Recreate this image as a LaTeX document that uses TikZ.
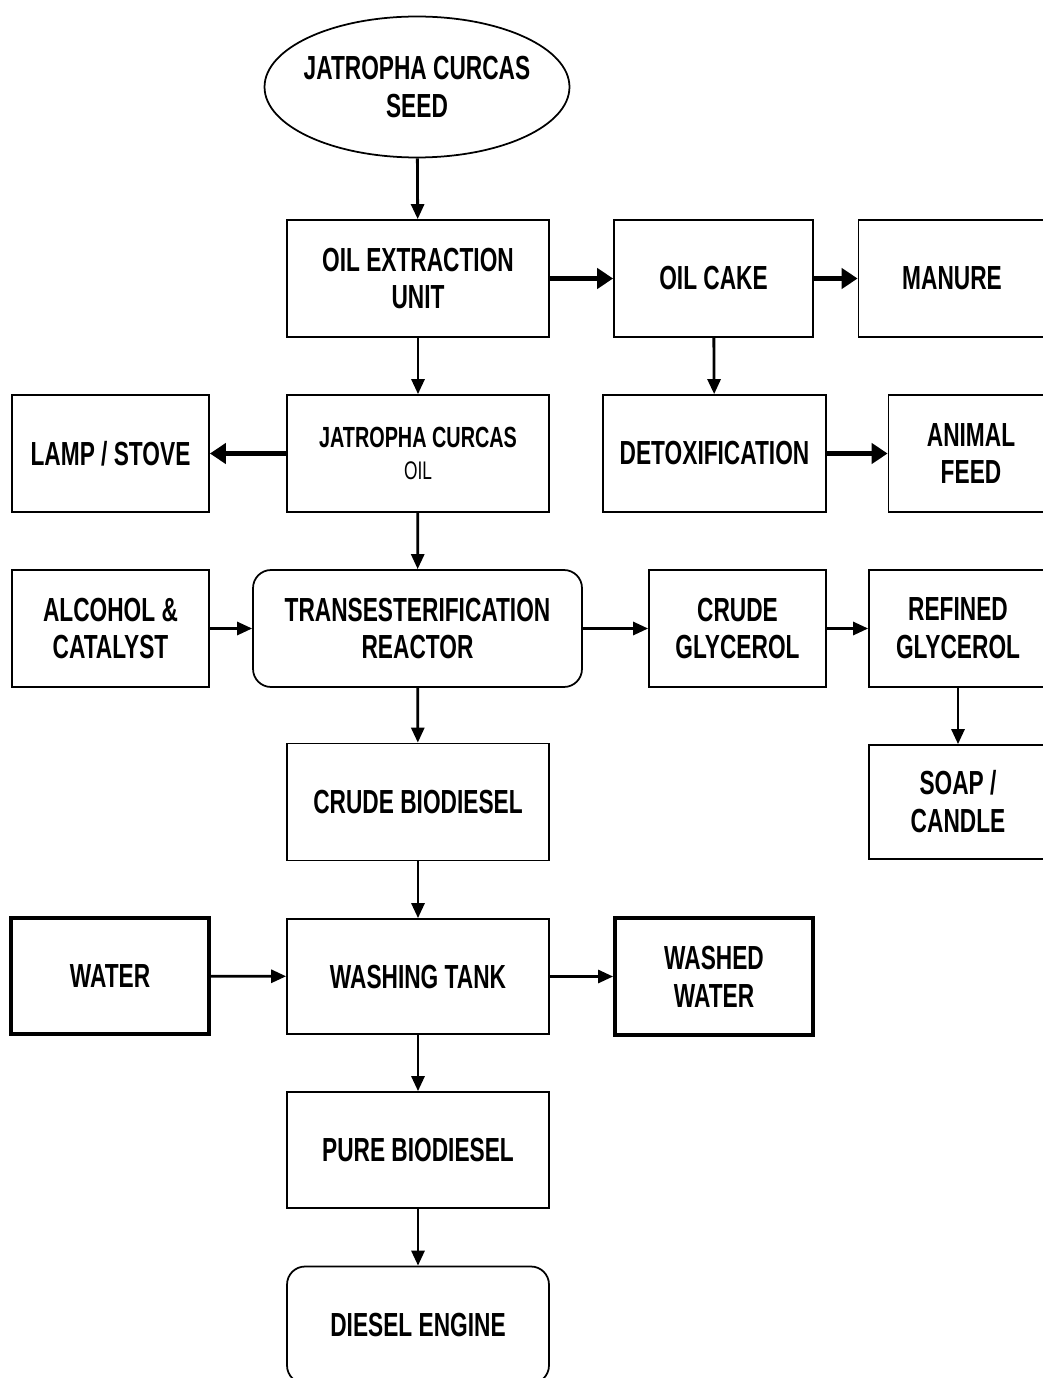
\documentclass[tikz,border=0pt]{standalone}
\usepackage{fontspec}
\newfontfamily\flowfont{Liberation Sans}[FakeStretch=0.68]
\usepackage{tikz}
\usetikzlibrary{arrows.meta, positioning, shapes.geometric}

\begin{document}
\begin{tikzpicture}[
  x=0.02cm, y=-0.02cm,
  >={Triangle[length=0.3cm, width=0.26cm]},
  box/.style={draw, line width=1pt, minimum width=5.24cm, minimum height=2.34cm,
    align=center, inner sep=2pt,
    font=\flowfont\bfseries\fontsize{19}{21.6}\selectfont},
  roundbox/.style={box, rounded corners=0.36cm},
  heavybox/.style={box, line width=2.2pt},
  link/.style={->, line width=1.6pt},
  biglink/.style={-{Triangle[length=0.32cm, width=0.4cm]}, line width=3.2pt},
]
\useasboundingbox (0,0) rectangle (1043,1378);

% --- Seed and extraction ---
\node[box, ellipse, inner xsep=-0.16cm, minimum width=6.1cm, minimum height=2.82cm] (seed) at (417, 87) {JATROPHA CURCAS\\SEED};
\node[box] (extract) at (418, 278.5) {OIL EXTRACTION\\UNIT};
\node[box, minimum width=3.98cm] (cake) at (713.5, 278.5) {OIL CAKE};
\node[box, minimum width=3.74cm] (manure) at (952, 278.5) {MANURE};

% --- Oil row ---
\node[box, minimum width=3.94cm] (lamp) at (110.5, 453.5) {LAMP / STOVE};
\node[box] (oil) at (418, 453.5) {{\fontsize{16.6}{19.3}\selectfont JATROPHA CURCAS}\\[-3pt]
  {\mdseries\fontsize{14.5}{17}\selectfont OIL}};
\node[box, minimum width=4.46cm] (detox) at (714.5, 453.5) {DETOXIFICATION};
\node[box, minimum width=3.3cm] (feed) at (971, 453.5) {ANIMAL\\FEED};

% --- Reactor row ---
\node[box, minimum width=3.94cm] (alcohol) at (110.5, 628.5) {ALCOHOL \&\\CATALYST};
\node[roundbox, minimum width=6.58cm] (reactor) at (417.5, 628.5) {TRANSESTERIFICATION\\REACTOR};
\node[box, minimum width=3.54cm] (crudegly) at (737.5, 628.5) {CRUDE\\GLYCEROL};
\node[box, minimum width=3.56cm] (refgly) at (958, 628.5) {REFINED\\GLYCEROL};

\node[box] (crudebio) at (418, 802) {CRUDE BIODIESEL};
\node[box, minimum width=3.56cm, minimum height=2.28cm] (soap) at (958, 802) {SOAP /\\CANDLE};

% --- Washing ---
\node[heavybox, minimum width=3.96cm, minimum height=2.32cm] (water) at (110, 976) {WATER};
\node[box, minimum height=2.3cm] (wash) at (418, 976.5) {WASHING TANK};
\node[heavybox, minimum width=3.96cm, minimum height=2.34cm] (washed) at (714, 976.5) {WASHED\\WATER};

\node[box, minimum height=2.32cm] (pure) at (418, 1150) {PURE BIODIESEL};
\node[roundbox] (engine) at (418, 1325) {DIESEL ENGINE};

% --- Connectors ---
\draw[link] (seed) -- (extract);
\draw[biglink] (extract) -- (cake);
\draw[biglink] (cake) -- (manure);
\draw[link] (extract) -- (oil);
\draw[link] (cake) -- (detox);
\draw[biglink] (oil) -- (lamp);
\draw[biglink] (detox) -- (feed);
\draw[link] (oil) -- (reactor);
\draw[link] (alcohol) -- (reactor);
\draw[link] (reactor) -- (crudegly);
\draw[link] (crudegly) -- (refgly);
\draw[link] (refgly.south -| soap.north) -- (soap.north);
\draw[link] (reactor) -- (crudebio);
\draw[link] (crudebio) -- (wash);
\draw[link] (water) -- (wash);
\draw[link] (wash) -- (washed);
\draw[link] (wash) -- (pure);
\draw[link] (pure) -- (engine);

\end{tikzpicture}
\end{document}
